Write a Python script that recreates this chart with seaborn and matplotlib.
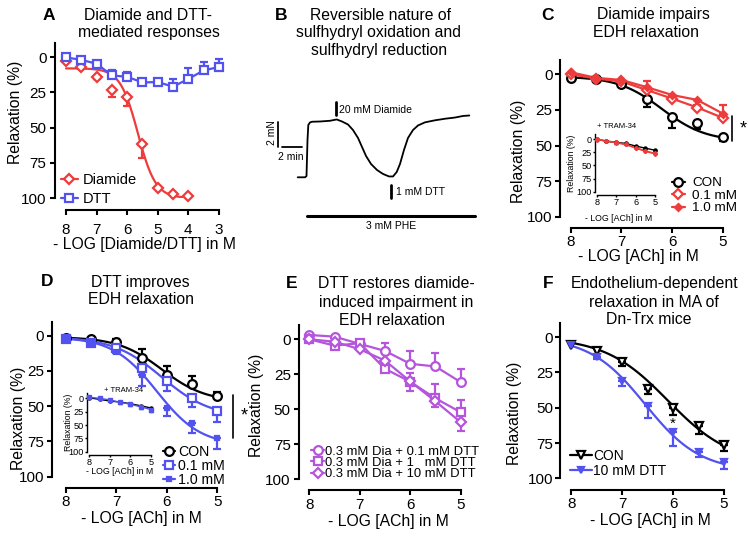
import numpy as np
import seaborn as sns
import matplotlib.pyplot as plt
from matplotlib.lines import Line2D

sns.set_theme(style="ticks")
plt.rcParams['font.family'] = ['Liberation Sans', 'DejaVu Sans']
plt.rcParams['text.color'] = 'black'
plt.rcParams['axes.labelcolor'] = 'black'

W, H = 749, 538
RED = "#ee3b3b"
BLUE = "#5252ee"
PURPLE = "#b455dc"
BLACK = "black"

# ---------------- data ----------------
y_ticks = [0, 25, 50, 75, 100]
ach = [8, 7.5, 7, 6.5, 6, 5.5, 5]

# A: diamide / DTT concentration-response
a_x_diamide = [8, 7.5, 7, 6.5, 6, 5.5, 5, 4.5, 4]
a_diamide = [2.6, 7, 14, 23.5, 28.5, 62, 93, 97, 98.3]
a_diamide_sem = [0, 0, 1.9, 4.7, 5.9, 9.5, 0, 0, 0]
a_diamide_fit = (8, 100, 5.65, 1.5)      # start, plateau, pEC50, slope
a_x_dtt = [8, 7.5, 7, 6.5, 6, 5.5, 5, 4.5, 4, 3.5, 3]
a_dtt = [0.2, 2, 4.7, 13, 14, 18, 17.7, 21, 15.5, 9.5, 7]
a_dtt_sem = [0, 0, 0, 4, 3.5, 0, 0, 5.7, 7.8, 5.7, 5.7]

# B: force trace
trace_t = [0, 0.73, 0.88, 0.98, 1.06, 1.23, 1.43, 2.23, 3.23, 3.9, 4.43, 5.03,
           5.53, 6.03, 6.43, 6.83, 7.33, 7.93, 8.53, 9.13, 9.53, 9.9, 10.23,
           10.63, 11.03, 11.53, 12.03, 12.73, 13.73, 14.73, 15.73, 16.53, 17.16]
trace_mn = [0, 0, 0.1, 3.1, 4.36, 4.57, 4.63, 4.65, 4.71, 4.82, 4.65, 4.4,
            3.94, 3.28, 2.53, 1.78, 1.11, 0.61, 0.28, 0.07, 0.07, 0.44, 1.11,
            2.28, 3.28, 3.94, 4.32, 4.58, 4.75, 4.88, 4.98, 5.11, 5.15]
diamide_t, dtt_t = 3.83, 9.3
phe_span = (0.9, 17.73)

# C: diamide impairs EDH relaxation
c_con = [2.4, 3.3, 7, 17, 30, 34, 44]
c_con_sem = [0, 0, 1.5, 6, 7.5, 4.5, 3]
c_con_fit = (1.5, 47, 6.2, 1.0)
c_d01 = [0, 3, 5, 11, 17, 23.3, 30.5]
c_d01_sem = [0, 0, 0, 0, 1.5, 1.5, 2]
c_d10 = [-1.4, 2.5, 4, 9, 14.5, 18, 27.5]
c_d10_sem = [0, 0, 0, 4, 0, 0, 6]
ci_con = [0, 4, 6, 8, 13, 17, 21]
ci_con_sem = [0, 2, 3, 3, 2, 2, 2]
ci_d01 = [0, 3, 6, 10, 16, 22, 27]
ci_d10 = [1, 3, 7, 10, 17, 23, 28]

# D: DTT improves EDH relaxation
d_con = [1.9, 2.6, 4.7, 16, 27.8, 34.4, 42.6]
d_con_sem = [0, 0, 2.5, 6.6, 6, 6, 2.4]
d_con_fit = (1, 47, 6.1, 1.0)
d_01 = [2.4, 5, 9, 23, 32.5, 44, 53.6]
d_01_sem = [0, 0, 0, 3, 7, 7, 8]
d_01_fit = (1, 58, 6.1, 0.9)
d_10 = [2.4, 5, 11.3, 28, 51.3, 62, 72.5]
d_10_sem = [0, 0, 1, 8, 6, 7, 8]
d_10_fit = (1, 78, 6.2, 1.0)
di_con = [-1, 2, 5, 7, 10, 14, 18]
di_dtt = [-2, 0, 3, 7.5, 11, 16, 21]
di_dtt_sem = [1, 1, 2, 3, 4, 4, 4]

# E: DTT restores diamide-induced impairment
e_01 = [-3.1, -1.9, 3.3, 8.3, 17.5, 19.4, 30.6]
e_01_sem = [0, 0, 0, 5.5, 9.5, 9.5, 9.5]
e_1 = [0, 4.5, 2.8, 21.1, 30.3, 42.2, 52.1]
e_1_sem = [0, 0, 0, 0, 6, 10.5, 9]
e_10 = [0, 1.7, 7.1, 15.2, 30.1, 44.3, 59.2]
e_10_sem = [0, 0, 0, 0, 7, 4, 6]

# F: Dn-Trx mice
f_con = [5.4, 9.9, 17.7, 36.7, 50.4, 62.7, 76.4]
f_con_sem = [0, 0, 3, 3.5, 4.7, 6, 4]
f_con_fit = (0, 90, 6.1, 0.7)
f_dtt = [5.5, 14, 30.8, 49, 67.5, 81.7, 88.8]
f_dtt_sem = [0, 1.5, 3.5, 8, 9.5, 3, 4.3]
f_dtt_fit = (0, 95, 6.55, 0.8)

fig = plt.figure(figsize=(W / 100, H / 100), dpi=100)


def box(l, t, r, b):
    return fig.add_axes([l / W, 1 - b / H, (r - l) / W, (b - t) / H])


def to_ax(ax, px, py):
    p = ax.get_position()
    return (px / W - p.x0) / p.width, ((1 - py / H) - p.y0) / p.height


def hill(x, start, plateau, p50, slope):
    return start + (plateau - start) / (1 + 10 ** ((x - p50) * slope))


def frame(ax, xlim, xticks, drop, xlab, xlab_pos, ylab_pos, fs=11.3, tfs=11,
          lw=1.5, tlen=3.6, pad=2.5, top=-10):
    ax.set_xlim(*xlim)
    ax.set_ylim(100, top)
    ax.set_xticks(xticks)
    ax.set_yticks(y_ticks)
    sns.despine(ax=ax)
    ax.set_facecolor('none')
    ax.spines['bottom'].set_position(('outward', drop * 0.72))
    ax.spines['bottom'].set_bounds(xticks[0], xticks[-1])
    ax.spines['left'].set_bounds(top, 100)
    for s in ('left', 'bottom'):
        ax.spines[s].set_linewidth(lw)
        ax.spines[s].set_color(BLACK)
    ax.tick_params(direction='out', length=tlen, width=lw, labelsize=tfs,
                   pad=pad, colors=BLACK)
    ax.set_xlabel(xlab, fontsize=fs, va='center')
    ax.set_ylabel("Relaxation (%)", fontsize=fs, va='center')
    ax.xaxis.set_label_coords(*to_ax(ax, *xlab_pos))
    ax.yaxis.set_label_coords(*to_ax(ax, *ylab_pos))


def series(ax, x, y, sem, up, color, marker, ms, filled, line=True, lw=1.6, cap=3):
    x, y, sem = (np.asarray(v, dtype=float) for v in (x, y, sem))
    if line:
        sns.lineplot(x=x, y=y, ax=ax, color=color, linewidth=lw)
    has = sem > 0
    if has.any():
        zero = np.zeros(has.sum())
        yerr = [sem[has], zero] if up else [zero, sem[has]]
        ax.errorbar(x[has], y[has], yerr=yerr, fmt='none', ecolor=color,
                    elinewidth=lw, capsize=cap, capthick=lw, zorder=3)
    ax.plot(x, y, ls='none', marker=marker, ms=ms, mec=color, mew=lw,
            mfc=color if filled else 'white', zorder=4, clip_on=False)


def fit(ax, xs, params, color, lw=1.6):
    xs = np.linspace(xs[0], xs[1], 120)
    sns.lineplot(x=xs, y=hill(xs, *params), ax=ax, color=color, linewidth=lw)


def legend(ax, entries, anchor, fs, hl, htp, ls):
    handles = [Line2D([], [], color=c, marker=m, ms=ms, mec=c, mew=1.6, lw=1.6,
                      mfc=c if f else 'white') for _, c, m, ms, f in entries]
    ax.legend(handles, [e[0] for e in entries], loc='upper left',
              bbox_to_anchor=(anchor[0] / W, 1 - anchor[1] / H),
              bbox_transform=fig.transFigure, frameon=False, borderpad=0,
              borderaxespad=0, fontsize=fs, handlelength=hl,
              handletextpad=htp, labelspacing=ls)


def title(letter, lpos, lines):
    fig.text(lpos[0] / W, 1 - lpos[1] / H, letter, ha='center', va='center',
             fontsize=12.5, fontweight='bold')
    for s, x, y in lines:
        fig.text(x / W, 1 - y / H, s, ha='center', va='center', fontsize=11.3)


def inset(ax, xlim, drop, tpos, xpos, ypos):
    frame(ax, xlim, [8, 7, 6, 5], drop, "- LOG [ACh] in M", xpos, ypos,
          fs=6.3, tfs=6.6, lw=1.0, tlen=1.5, pad=0.8)
    fig.text(tpos[0] / W, 1 - tpos[1] / H, "+ TRAM-34", ha='center',
             va='center', fontsize=5.5)


# ---------------- A ----------------
ax = box(55, 43, 225, 198)
fit(ax, (8, 4.2), a_diamide_fit, RED)
series(ax, a_x_diamide, a_diamide, a_diamide_sem, False, RED, 'D', 5.5, False, line=False)
series(ax, a_x_dtt, a_dtt, a_dtt_sem, True, BLUE, 's', 6, False)
frame(ax, (8.36, 2.8), [8, 7, 6, 5, 4, 3], 12, "- LOG [Diamide/DTT] in M",
      (144, 244), (15, 112))
ax.tick_params(axis='x', pad=6)
legend(ax, [("Diamide", RED, 'D', 5.5, False), ("DTT", BLUE, 's', 6, False)],
       (61, 173), 10.5, 1.16, 0.35, 0.34)
title("A", (49, 15), [("Diamide and DTT-", 148, 15), ("mediated responses", 148.5, 32.3)])

# ---------------- B ----------------
ax = box(258, 95, 492, 240)
ax.set_xlim(-3.97, 19.43)
ax.set_ylim(-5.225, 6.858)
ax.axis('off')
sns.lineplot(x=trace_t, y=trace_mn, ax=ax, color=BLACK, linewidth=1.3, sort=False)
ax.plot([diamide_t, diamide_t], [5.19, 6.3], color=BLACK, lw=2)
ax.text(diamide_t + 0.33, 5.6, "20 mM Diamide", fontsize=7.5, va='center')
ax.plot([dtt_t, dtt_t], [-0.65, -1.75], color=BLACK, lw=2)
ax.text(dtt_t + 0.55, -1.25, "1 mM DTT", fontsize=7.5, va='center')
ax.plot(phe_span, [-3.2, -3.2], color=BLACK, lw=2.2)
ax.text(sum(phe_span) / 2, -4.1, "3 mM PHE", fontsize=7.5, ha='center', va='center')
ax.plot([-1.97, -1.97], [2.55, 4.58], color=BLACK, lw=1.3)
ax.plot([-1.6, 0.4], [2.55, 2.55], color=BLACK, lw=1.3)
ax.text(-0.74, 1.7, "2 min", fontsize=7.5, ha='center', va='center')
ax.text(-2.6, 3.75, "2 mN", fontsize=7.5, ha='center', va='center', rotation=90)
title("B", (281, 15.7), [("Reversible nature of", 380, 15.7),
                         ("sulfhydryl oxidation and", 378.3, 32.3),
                         ("sulfhydryl reduction", 379.5, 50.7)])

# ---------------- C ----------------
ax = box(560, 60, 730, 217)
fit(ax, (8, 5), c_con_fit, BLACK)
series(ax, ach, c_con, c_con_sem, False, BLACK, 'o', 6.3, False, line=False)
series(ax, ach, c_d01, c_d01_sem, True, RED, 'D', 5.5, False)
series(ax, ach, c_d10, c_d10_sem, True, RED, 'D', 3.5, True)
frame(ax, (8.211, 4.856), [8, 7, 6, 5], 11, "- LOG [ACh] in M",
      (638, 257), (518.3, 151.7), pad=1.8)
ax.plot([4.82, 4.82], [29.4, 46.9], color=BLACK, lw=1.2, clip_on=False)
ax.text(4.6, 38, "*", fontsize=13, ha='center', va='center')
legend(ax, [("CON", BLACK, 'o', 6.3, False), ("0.1 mM", RED, 'D', 5.5, False),
            ("1.0 mM", RED, 'D', 3.5, True)], (671.7, 177), 9.7, 1.0, 0.5, 0.0)
title("C", (547.7, 15), [("Diamide impairs", 653.7, 15), ("EDH relaxation", 646.3, 32.3)])

ax = box(595, 134, 657, 191.7)
series(ax, ach, ci_con, ci_con_sem, False, BLACK, 'o', 2.2, True, lw=1.0, cap=1.2)
series(ax, ach, ci_d01, [0] * 7, False, RED, 'D', 2, True, lw=1.0)
series(ax, ach, ci_d10, [0] * 7, False, RED, 'D', 2, True, lw=1.0)
inset(ax, (8.09, 4.9), 3.3, (616.7, 126.7), (619, 218.3), (571, 163))

# ---------------- D ----------------
ax = box(51.7, 321.5, 222, 476.5)
fit(ax, (8, 5), d_con_fit, BLACK)
fit(ax, (8, 5), d_01_fit, BLUE)
fit(ax, (8, 5), d_10_fit, BLUE)
series(ax, ach, d_con, d_con_sem, True, BLACK, 'o', 6.3, False, line=False)
series(ax, ach, d_01, d_01_sem, False, BLUE, 's', 6, False, line=False)
series(ax, ach, d_10, d_10_sem, False, BLUE, 's', 3.5, True, line=False)
frame(ax, (8.277, 4.911), [8, 7, 6, 5], 11.5, "- LOG [ACh] in M",
      (141.7, 518.5), (18.3, 418), pad=1.8)
ax.plot([4.7, 4.7], [42.2, 72.7], color=BLACK, lw=1.2, clip_on=False)
ax.text(4.47, 57, "*", fontsize=13, ha='center', va='center')
legend(ax, [("CON", BLACK, 'o', 6.3, False), ("0.1 mM", BLUE, 's', 6, False),
            ("1.0 mM", BLUE, 's', 3.5, True)], (163, 445), 10.2, 0.85, 0.2, 0.0)
title("D", (46.7, 282), [("DTT improves", 140, 282), ("EDH relaxation", 141.3, 299.3)])

ax = box(86.7, 393, 153, 451.7)
series(ax, ach, di_con, [0] * 7, False, BLACK, 'o', 2.2, True, lw=1.0)
series(ax, ach, di_dtt, di_dtt_sem, False, BLUE, 's', 2.2, True, lw=1.0, cap=1.2)
inset(ax, (8.13, 4.9), 3.3, (123.3, 391), (120, 471), (68, 422))

# ---------------- E ----------------
ax = box(299.3, 325.3, 467, 479.3)
series(ax, ach, e_01, e_01_sem, True, PURPLE, 'o', 6.3, False)
series(ax, ach, e_1, e_1_sem, True, PURPLE, 's', 6, False)
series(ax, ach, e_10, e_10_sem, False, PURPLE, 'D', 5.5, False)
frame(ax, (8.198, 4.875), [8, 7, 6, 5], 10.7, "- LOG [ACh] in M",
      (388.3, 521.7), (256, 405.8))
legend(ax, [("0.3 mM Dia + 0.1 mM DTT", PURPLE, 'o', 6.3, False),
            ("0.3 mM Dia + 1   mM DTT", PURPLE, 's', 6, False),
            ("0.3 mM Dia + 10 mM DTT", PURPLE, 'D', 5.5, False)],
       (311, 445.5), 9.4, 1.0, 0.1, -0.06)
title("E", (291.7, 283.3), [("DTT restores diamide-", 396.2, 283.3),
                            ("induced impairment in", 395.8, 302.3),
                            ("EDH relaxation", 391.7, 320.7)])

# ---------------- F ----------------
ax = box(560, 323, 730, 478.3)
fit(ax, (8, 5), f_con_fit, BLACK)
fit(ax, (8, 5), f_dtt_fit, BLUE)
series(ax, ach, f_con, f_con_sem, False, BLACK, 'v', 6.3, False, line=False)
series(ax, ach, f_dtt, f_dtt_sem, False, BLUE, 'v', 4, True, line=False)
frame(ax, (8.22, 4.882), [8, 7, 6, 5], 11.7, "- LOG [ACh] in M",
      (650, 520), (515, 413), pad=1.5)
ax.text(6.0, 61.5, "*", fontsize=11, ha='center', va='center')
legend(ax, [("CON", BLACK, 'v', 6.3, False), ("10 mM DTT", BLUE, 'v', 4, True)],
       (570, 449), 10, 1.6, 0.05, 0.07)
title("F", (548.3, 283.3), [("Endothelium-dependent", 655, 283.3),
                            ("relaxation in MA of", 654, 302.3),
                            ("Dn-Trx mice", 648.3, 320)])

fig.savefig("out.png", dpi=100)
